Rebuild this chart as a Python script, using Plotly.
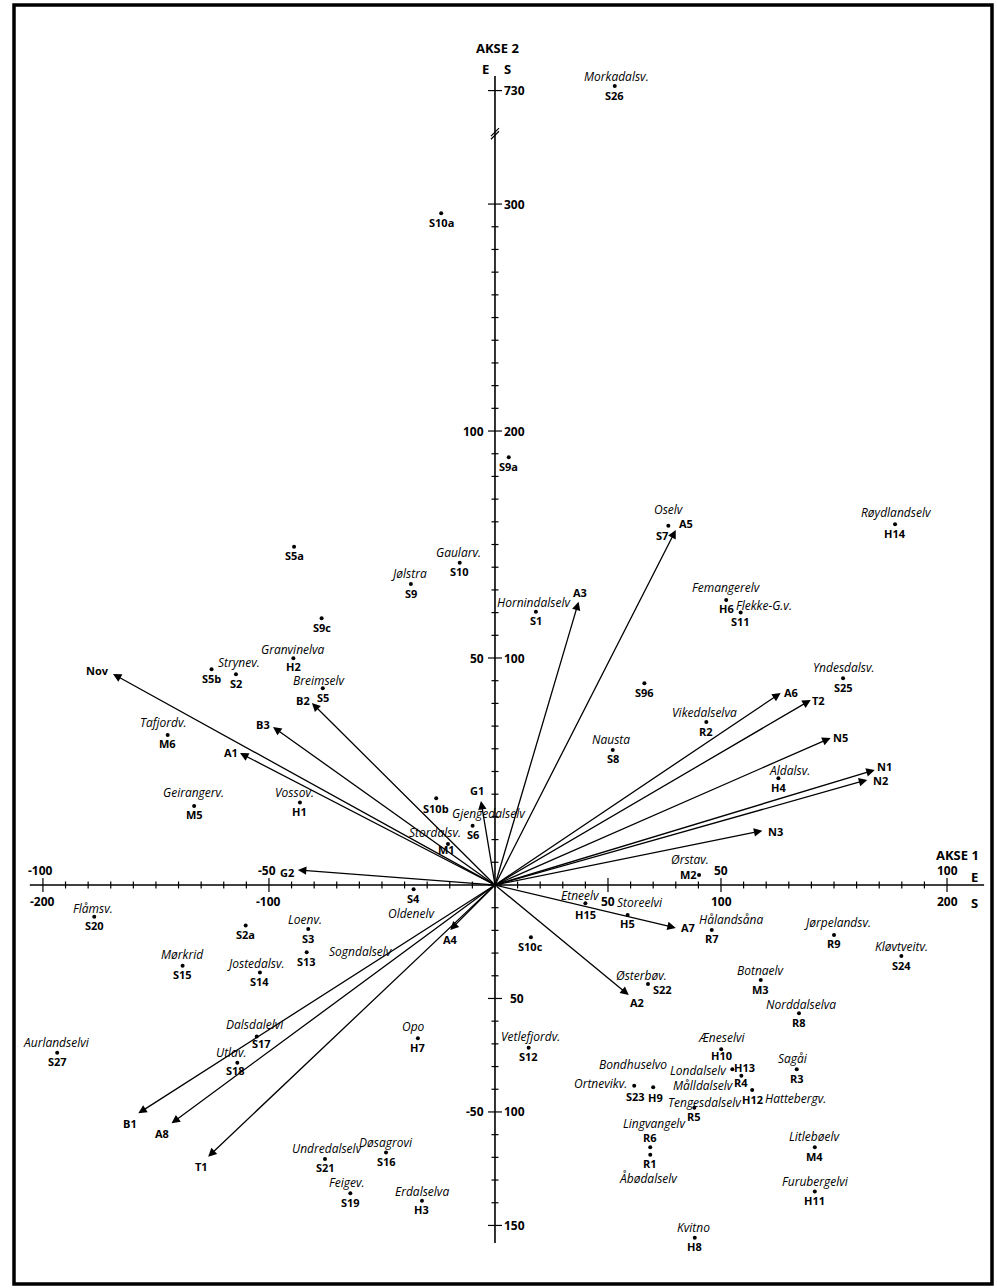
import plotly.graph_objects as go

# ---------------------------------------------------------------
# Site scores on ordination axes 1 and 2 (S-scale units)
# ---------------------------------------------------------------
site_codes = ["S26", "S10a", "S5a", "S9c", "H2", "S5b", "S2", "S5", "M6", "M5",
              "H1", "S9a", "S10", "S9", "S1", "S96", "S8", "S10b", "S6", "M1",
              "S7", "H14", "H6", "S11", "S25", "R2", "H4", "M2", "R7", "R9",
              "S24", "M3", "R8", "H10", "H13", "R4", "R3", "H12", "R5", "M4",
              "H11", "H8", "S23", "H9", "R6", "R1", "S4", "H15", "H5", "S10c",
              "S22", "H7", "S12", "S16", "H3", "S19", "S21", "S20", "S2a", "S3",
              "S13", "S15", "S14", "S27", "S17", "S18"]
site_names = ["Morkadalsv.", "", "", "", "Granvinelva", "", "Strynev.", "Breimselv", "Tafjordv.", "Geirangerv.",
              "Vossov.", "", "Gaularv.", "Jølstra", "Hornindalselv", "", "Nausta", "", "Gjengedalselv", "Stordalsv.",
              "Oselv", "Røydlandselv", "Femangerelv", "Flekke-G.v.", "Yndesdalsv.", "Vikedalselva", "Aldalsv.", "Ørstav.", "Hålandsåna", "Jørpelandsv.",
              "Kløvtveitv.", "Botnaelv", "Norddalselva", "Æneselvi", "Londalselv", "Målldalselv", "Sagåi", "Hattebergv.", "Tengesdalselv", "Litlebøelv",
              "Furubergelvi", "Kvitno", "Ortnevikv.", "Bondhuselvo", "Lingvangelv", "Åbødalselv", "Oldenelv", "Etneelv", "Storeelvi", "",
              "Østerbøv.", "Opo", "Vetlefjordv.", "Døsagrovi", "Erdalselva", "Feigev.", "Undredalselv", "Flåmsv.", "", "Loenv.",
              "Sogndalselv", "Mørkrid", "Jostedalsv.", "Aurlandselvi", "Dalsdalelvi", "Utlav."]
site_ax1 = [53.0, -23.8, -88.9, -76.7, -89.2, -125.4, -114.6, -76.2, -144.8, -133.1,
            -86.3, 6.1, -15.6, -37.2, 18.1, 66.1, 52.1, -26.0, -9.9, -20.8,
            76.7, 177.0, 102.3, 108.7, 154.0, 93.5, 125.4, 90.3, 95.9, 150.0,
            179.8, 117.6, 134.5, 100.1, 105.0, 109.0, 133.5, 113.8, 88.2, 141.5,
            141.5, 88.4, 61.6, 70.0, 68.7, 68.7, -36.0, 40.0, 58.7, 15.9,
            67.7, -34.1, 14.9, -48.2, -32.3, -64.0, -75.2, -177.3, -110.3, -82.6,
            -83.3, -138.2, -104.0, -193.7, -105.4, -114.0]
site_ax2 = [732.0, 295.9, 149.0, 117.5, 99.9, 95.0, 92.8, 86.7, 66.1, 34.8,
            36.3, 188.4, 142.0, 132.6, 120.4, 88.9, 59.5, 38.2, 26.1, 18.1,
            158.3, 158.9, 125.6, 120.0, 91.1, 71.8, 47.0, 4.4, -19.8, -22.0,
            -31.3, -41.9, -56.5, -72.4, -81.2, -84.1, -81.2, -90.3, -98.1, -115.6,
            -135.1, -155.4, -88.5, -89.1, -115.6, -118.9, -1.9, -8.1, -13.2, -23.0,
            -43.6, -67.5, -71.7, -117.9, -139.1, -135.8, -120.7, -14.0, -17.9, -19.4,
            -29.6, -35.6, -38.6, -73.9, -66.8, -78.3]

# ---------------------------------------------------------------
# Environmental variable vectors (tip coordinates, S-scale units)
# ---------------------------------------------------------------
vec_names = ["Nov", "A1", "B3", "B2", "G2", "G1", "A3", "A5", "A6", "T2",
             "N5", "N1", "N2", "N3", "A7", "A2", "A4", "B1", "A8", "T1"]
vec_ax1 = [-169.0, -112.8, -98.2, -81.0, -87.2, -6.2, 37.0, 80.0, 126.4, 139.7,
           148.5, 168.0, 164.7, 118.3, 80.0, 59.2, -19.8, -157.8, -143.1, -126.9]
vec_ax2 = [93.0, 58.1, 69.6, 80.2, 6.6, 37.0, 124.8, 156.4, 84.6, 81.5,
           64.8, 50.7, 46.3, 23.9, -18.9, -48.5, -19.8, -100.6, -105.0, -119.7]

# ---------------------------------------------------------------
# Axis tick labels: E scale (half of S scale) and S scale
# ---------------------------------------------------------------
ax2_s_ticks = [730, 300, 200, 100, -50, -100, -150]
ax2_s_labels = ["730", "300", "200", "100", "50", "100", "150"]
ax2_e_ticks = [200, 100, -100]
ax2_e_labels = ["100", "50", "-50"]
ax1_s_ticks = [-200, -100, 50, 100, 200]
ax1_s_labels = ["-200", "-100", "50", "100", "200"]
ax1_e_ticks = [-200, -100, 100, 200]
ax1_e_labels = ["-100", "-50", "50", "100"]

# ---------------------------------------------------------------
# Layout constants
# ---------------------------------------------------------------
W, H = 997, 1288
XR = [-212.8, 219.9]
YR = [-175.8, 387.7]
PXX = (XR[1] - XR[0]) / (W - 14 - 5)      # data units per pixel, x
PXY = (YR[1] - YR[0]) / (H - 5 - 4)       # data units per pixel, y
FONT = "Open Sans"


def disp(v):
    """Axis 2 is broken above 300: the 730 tick sits just above the break."""
    return v if v <= 320 else v - 380


# label offsets in pixels (dx right, dy down)
name_off = {"S26": (2, -10), "S2": (3, -12), "S5": (-3, -8), "M6": (-4, -12), "M5": (-1, -13),
            "H1": (-5, -10), "S10": (-1, -10), "S9": (-2, -11), "S1": (-2, -9), "S8": (-2, -10),
            "S6": (16, -12), "M1": (-13, -11), "S7": (1, -16), "H14": (1, -12), "H6": (0, -12),
            "S11": (23, -7), "S25": (1, -11), "R2": (-2, -10), "H4": (11, -8), "M2": (-9, -15),
            "R7": (19, -10), "R9": (3, -12), "S24": (0, -10), "M3": (0, -10), "R8": (2, -9),
            "H10": (0, -12), "H13": (-34, 1), "R4": (-38, 10), "R3": (-4, -11), "H12": (43, 9),
            "R5": (11, -5), "M4": (0, -11), "H11": (1, -10), "H8": (-1, -10), "S23": (-34, -2),
            "H9": (-20, -23), "R6": (4, -24), "R1": (-2, 24), "S4": (-2, 24), "H15": (-5, -8),
            "H5": (12, -12), "S22": (-6, -8), "H7": (-4, -12), "S12": (2, -11), "S16": (0, -10),
            "H3": (0, -9), "S19": (-4, -11), "S21": (2, -10), "S20": (-1, -8), "S3": (-3, -10),
            "S13": (54, -1), "S15": (0, -11), "S14": (-4, -9), "S27": (-1, -10), "S17": (-2, -12),
            "S18": (-6, -10), "H2": (0, -9)}
code_off = {"M1": (-1, 6), "S7": (-6, 10), "M2": (-11, 0), "H13": (12, -2), "H12": (0, 10),
            "S23": (1, 11), "H9": (2, 10), "R6": (0, -10), "S22": (15, 6), "S17": (5, 7),
            "S18": (-2, 8), "H15": (0, 11), "S10b": (0, 10), "R4": (0, 7), "H10": (0, 6),
            "H2": (0, 8)}
vec_off = {"Nov": (-16, -3), "A1": (-9, -1), "B3": (-10, -3), "B2": (-9, -2), "G2": (-11, 2),
           "G1": (-4, -11), "A3": (1, -9), "A5": (10, -6), "A6": (10, 0), "T2": (8, 0),
           "N5": (10, 0), "N1": (10, -3), "N2": (13, 1), "N3": (13, 1), "A7": (12, 0),
           "A2": (8, 7), "A4": (0, 10), "B1": (-8, 10), "A8": (-10, 10), "T1": (-7, 10)}

fig = go.Figure()
shapes = []
annots = []


def line(x0, y0, x1, y1, w=1.4):
    shapes.append(dict(type="line", xref="x", yref="y", x0=x0, y0=y0, x1=x1, y1=y1,
                       line=dict(color="black", width=w)))


def text(x, y, s, size=12, dx=0, dy=0, italic=False, weight=700, xanchor="center"):
    annots.append(dict(x=x, y=y, xref="x", yref="y", text=s, showarrow=False,
                       xshift=dx, yshift=-dy, xanchor=xanchor, yanchor="middle",
                       borderpad=0,
                       font=dict(family=FONT, size=size, color="black",
                                 style="italic" if italic else "normal", weight=weight)))


# ---- axis 1 (horizontal) ----
line(-205.8, 0, 216.4, 0, 1.6)
for t in range(-200, 201, 10):
    major = t in (-200, -100, 50, 100, 200)
    h = (7 if major else 3.5) * PXY
    line(t, -h, t, h, 1.2)

# ---- axis 2 (vertical), broken above 300 ----
line(0, -157.7, 0, 356.4, 1.6)
for t in range(-150, 301, 10):
    major = t % 100 == 0 or t in (-50, -150)
    w = (7 if major else 3.5) * PXX
    line(-w, t, w, t, 1.2)
w7 = 7 * PXX
line(-w7, disp(730), w7, disp(730), 1.2)
# break marks
yb = 331
for k in (-1.6, 1.6):
    line(-4 * PXX, yb + k * PXY - 4 * PXY, 4 * PXX, yb + k * PXY + 4 * PXY, 1.2)

# ---- axis titles and tick labels ----
text(0, 356.4, "AKSE 2", 13, dx=3, dy=-28)
text(0, 356.4, "E", 13, dx=-9, dy=-7)
text(0, 356.4, "S", 13, dx=13, dy=-7)
for t, s in zip(ax2_s_ticks, ax2_s_labels):
    gap = 14 if s == "50" else 8
    text(0, disp(t), s, 12, dx=gap, xanchor="left")
for t, s in zip(ax2_e_ticks, ax2_e_labels):
    text(0, t, s, 12, dx=-10, xanchor="right")
for t, s in zip(ax1_s_ticks, ax1_s_labels):
    text(t, 0, s, 12, dy=17)
for t, s in zip(ax1_e_ticks, ax1_e_labels):
    text(t, 0, s, 12, dx=-2 if t < 0 else 0, dy=-14)
text(216.4, 0, "E", 13, dx=-10, dy=-8)
text(216.4, 0, "S", 13, dx=-10, dy=18)
text(216.4, 0, "AKSE 1", 13, dx=-27, dy=-30)

# ---- environmental vectors ----
for n, vx, vy in zip(vec_names, vec_ax1, vec_ax2):
    annots.append(dict(x=vx, y=vy, ax=0, ay=0, xref="x", yref="y", axref="x", ayref="y",
                       text="", showarrow=True, arrowhead=2, arrowsize=1.3,
                       arrowwidth=1.3, arrowcolor="black", standoff=0, startstandoff=0))
    dx, dy = vec_off[n]
    text(vx, vy, n, 11, dx=dx, dy=dy)

# ---- sites ----
site_disp = [disp(v) for v in site_ax2]
fig.add_trace(go.Scatter(x=site_ax1, y=site_disp, mode="markers",
                         marker=dict(size=4, color="black"), hoverinfo="skip",
                         showlegend=False))
for c, n, sx, sy in zip(site_codes, site_names, site_ax1, site_disp):
    dx, dy = code_off.get(c, (0, 9))
    text(sx, sy, c, 11, dx=dx, dy=dy)
    if n:
        dx, dy = name_off.get(c, (0, -11))
        text(sx, sy, n, 12, dx=dx, dy=dy, italic=True, weight=400)

# ---- frame ----
shapes.append(dict(type="rect", xref="paper", yref="paper", x0=0, y0=0, x1=1, y1=1,
                   line=dict(color="black", width=3.5)))

fig.update_layout(
    width=W, height=H,
    margin=dict(l=14, r=5, t=5, b=4),
    paper_bgcolor="white", plot_bgcolor="white",
    xaxis=dict(range=XR, visible=False, fixedrange=True),
    yaxis=dict(range=YR, visible=False, fixedrange=True),
    shapes=shapes, annotations=annots, showlegend=False,
)

fig.write_html("out.html")
